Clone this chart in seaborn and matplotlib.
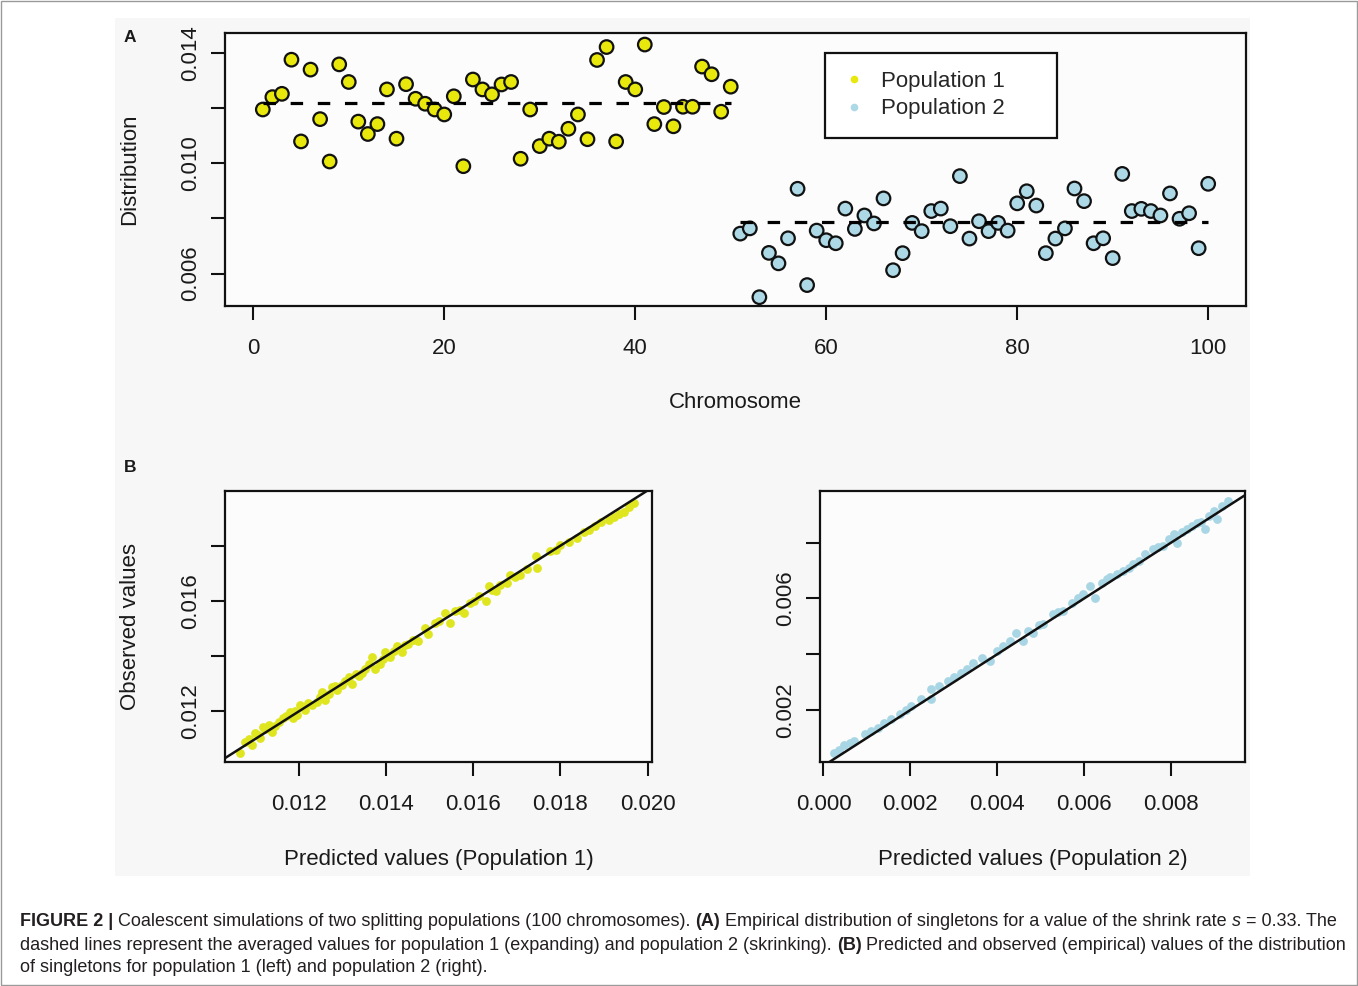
import numpy as np
import pandas as pd
import seaborn as sns
import matplotlib
matplotlib.use("Agg")
import matplotlib.pyplot as plt
from matplotlib.lines import Line2D
from matplotlib.patches import Rectangle
from matplotlib.font_manager import FontProperties, findfont

sns.set_style("white")
plt.rcParams['font.family'] = ['Liberation Sans', 'DejaVu Sans']

# panel A: singleton distribution per chromosome
chrom = list(range(1, 101))
pop1_dist = [0.01196, 0.01241, 0.01253, 0.01377, 0.01080, 0.01341, 0.01161, 0.01007, 0.01360, 0.01296,
             0.01152, 0.01107, 0.01143, 0.01269, 0.01090, 0.01288, 0.01235, 0.01217, 0.01196, 0.01178,
             0.01244, 0.00990, 0.01305, 0.01269, 0.01251, 0.01287, 0.01296, 0.01017, 0.01196, 0.01063,
             0.01090, 0.01079, 0.01126, 0.01178, 0.01088, 0.01376, 0.01423, 0.01080, 0.01296, 0.01269,
             0.01432, 0.01143, 0.01205, 0.01135, 0.01206, 0.01206, 0.01352, 0.01324, 0.01188, 0.01279]
pop2_dist = [0.00745, 0.00764, 0.00514, 0.00675, 0.00637, 0.00728, 0.00908, 0.00558, 0.00756, 0.00721,
             0.00710, 0.00836, 0.00762, 0.00811, 0.00782, 0.00873, 0.00612, 0.00674, 0.00784, 0.00754,
             0.00827, 0.00836, 0.00772, 0.00954, 0.00727, 0.00790, 0.00754, 0.00784, 0.00756, 0.00855,
             0.00899, 0.00847, 0.00674, 0.00727, 0.00764, 0.00909, 0.00863, 0.00710, 0.00728, 0.00656,
             0.00962, 0.00827, 0.00835, 0.00827, 0.00811, 0.00891, 0.00799, 0.00819, 0.00692, 0.00926]
pop1_mean = 0.01221
pop2_mean = 0.00787

# panel B: predicted vs observed
pred1 = [0.01064, 0.01076, 0.01085, 0.01091, 0.01099, 0.01105, 0.01110, 0.01118, 0.01122, 0.01130,
         0.01137, 0.01145, 0.01153, 0.01164, 0.01170, 0.01179, 0.01187, 0.01190, 0.01195, 0.01202,
         0.01208, 0.01214, 0.01220, 0.01229, 0.01241, 0.01247, 0.01252, 0.01260, 0.01268, 0.01275,
         0.01282, 0.01287, 0.01298, 0.01306, 0.01314, 0.01321, 0.01330, 0.01337, 0.01345, 0.01352,
         0.01360, 0.01367, 0.01375, 0.01386, 0.01392, 0.01398, 0.01409, 0.01418, 0.01425, 0.01436,
         0.01443, 0.01451, 0.01462, 0.01474, 0.01490, 0.01497, 0.01513, 0.01520, 0.01536, 0.01547,
         0.01559, 0.01570, 0.01578, 0.01593, 0.01602, 0.01612, 0.01628, 0.01635, 0.01642, 0.01651,
         0.01662, 0.01677, 0.01685, 0.01695, 0.01708, 0.01722, 0.01743, 0.01746, 0.01777, 0.01790,
         0.01800, 0.01819, 0.01838, 0.01855, 0.01865, 0.01880, 0.01892, 0.01911, 0.01923, 0.01935,
         0.01946, 0.01958, 0.01969]
obs1 = [0.01048, 0.01090, 0.01098, 0.01078, 0.01120, 0.01115, 0.01102, 0.01144, 0.01135, 0.01150,
        0.01126, 0.01148, 0.01162, 0.01174, 0.01182, 0.01197, 0.01174, 0.01200, 0.01186, 0.01222,
        0.01214, 0.01204, 0.01230, 0.01222, 0.01233, 0.01252, 0.01269, 0.01240, 0.01262, 0.01287,
        0.01290, 0.01276, 0.01294, 0.01310, 0.01323, 0.01300, 0.01334, 0.01329, 0.01340, 0.01354,
        0.01372, 0.01395, 0.01354, 0.01372, 0.01388, 0.01413, 0.01395, 0.01420, 0.01437, 0.01413,
        0.01440, 0.01444, 0.01458, 0.01455, 0.01503, 0.01479, 0.01521, 0.01528, 0.01557, 0.01521,
        0.01563, 0.01566, 0.01557, 0.01593, 0.01600, 0.01617, 0.01599, 0.01653, 0.01640, 0.01635,
        0.01658, 0.01665, 0.01695, 0.01688, 0.01695, 0.01716, 0.01761, 0.01719, 0.01779, 0.01786,
        0.01803, 0.01815, 0.01827, 0.01848, 0.01857, 0.01872, 0.01887, 0.01893, 0.01905, 0.01915,
        0.01923, 0.01940, 0.01953]
pred2 = [0.00025, 0.00035, 0.00048, 0.00060, 0.00071, 0.00095, 0.00110, 0.00125, 0.00140, 0.00156,
         0.00175, 0.00190, 0.00202, 0.00225, 0.00248, 0.00248, 0.00265, 0.00287, 0.00300, 0.00317,
         0.00330, 0.00344, 0.00364, 0.00383, 0.00400, 0.00414, 0.00430, 0.00444, 0.00460, 0.00470,
         0.00483, 0.00495, 0.00506, 0.00529, 0.00540, 0.00552, 0.00571, 0.00585, 0.00598, 0.00613,
         0.00625, 0.00640, 0.00652, 0.00660, 0.00675, 0.00690, 0.00702, 0.00712, 0.00725, 0.00740,
         0.00759, 0.00770, 0.00782, 0.00795, 0.00806, 0.00813, 0.00825, 0.00836, 0.00848, 0.00859,
         0.00868, 0.00878, 0.00888, 0.00898, 0.00905, 0.00918, 0.00932]
obs2 = [0.00047, 0.00058, 0.00073, 0.00080, 0.00089, 0.00113, 0.00126, 0.00137, 0.00152, 0.00167,
        0.00185, 0.00200, 0.00214, 0.00240, 0.00274, 0.00238, 0.00285, 0.00304, 0.00318, 0.00334,
        0.00346, 0.00370, 0.00387, 0.00376, 0.00412, 0.00429, 0.00448, 0.00477, 0.00447, 0.00484,
        0.00477, 0.00505, 0.00507, 0.00543, 0.00552, 0.00555, 0.00585, 0.00600, 0.00615, 0.00644,
        0.00603, 0.00655, 0.00668, 0.00676, 0.00686, 0.00700, 0.00710, 0.00722, 0.00734, 0.00758,
        0.00776, 0.00784, 0.00788, 0.00812, 0.00830, 0.00800, 0.00838, 0.00848, 0.00860, 0.00871,
        0.00875, 0.00848, 0.00896, 0.00913, 0.00884, 0.00930, 0.00950]

YELLOW = "#e8e80c"
BLUE = "#add8e6"
YELLOW_B = "#dfe620"
BLUE_B = "#a9d6e5"
W, H = 1358, 986

dfA = pd.DataFrame({"chrom": chrom, "dist": pop1_dist + pop2_dist,
                    "pop": ["Population 1"] * 50 + ["Population 2"] * 50})

fig = plt.figure(figsize=(W / 100, H / 100), dpi=100)
fig.patch.set_facecolor("white")
fig.patches.append(Rectangle((115 / W, 1 - 876 / H), 1135 / W, 858 / H, transform=fig.transFigure,
                             facecolor="#f7f7f7", edgecolor="none", zorder=-5))
fig.patches.append(Rectangle((0.001, 0.001), 0.998, 0.998, transform=fig.transFigure,
                             facecolor="none", edgecolor="#9a9a9a", lw=1, zorder=-4))

axA = fig.add_axes([225 / W, 1 - 306 / H, 1021 / W, 273 / H])
axB1 = fig.add_axes([225 / W, 1 - 762 / H, 427 / W, 271 / H])
axB2 = fig.add_axes([820 / W, 1 - 762 / H, 425 / W, 271 / H])


def style_axes(ax):
    ax.set_facecolor("#fcfcfc")
    for sp in ax.spines.values():
        sp.set_color("#111111")
        sp.set_linewidth(1.6)
    ax.tick_params(axis="both", direction="out", length=10, width=1.5, color="#111111",
                   labelsize=16, labelcolor="#1a1a1a", bottom=True, left=True)
    ax.tick_params(axis="x", pad=13)
    ax.tick_params(axis="y", pad=7)


# ---- panel A
sns.scatterplot(data=dfA, x="chrom", y="dist", hue="pop", palette=[YELLOW, BLUE], s=95,
                edgecolor="#111111", linewidth=1.6, legend=False, ax=axA, zorder=3)
dash = (0, (3.9, 4.6))
axA.hlines(pop1_mean, chrom[0], chrom[49], colors="black", lw=2.3, linestyles=[dash], zorder=4)
axA.hlines(pop2_mean, chrom[50], chrom[99], colors="black", lw=2.3, linestyles=[dash], zorder=4)
axA.set_xlim(-2.96, 103.96)
axA.set_ylim(0.00482, 0.01474)
style_axes(axA)
axA.set_xticks([0, 20, 40, 60, 80, 100])
axA.set_yticks([0.006, 0.008, 0.010, 0.012, 0.014], labels=["0.006", "", "0.010", "", "0.014"],
               rotation=90, va="center")
axA.set_xlabel("Chromosome", fontsize=16, color="#1a1a1a")
axA.set_ylabel("Distribution", fontsize=16, color="#1a1a1a")
axA.xaxis.set_label_coords(0.5, (306 - 403) / 273)
axA.xaxis.label.set_va("center")
axA.yaxis.set_label_coords((130 - 225) / 1021, 0.5)
axA.yaxis.label.set_va("center")

handles = [Line2D([], [], marker="o", ls="", color=YELLOW, mec="none", markersize=5.5),
           Line2D([], [], marker="o", ls="", color=BLUE, mec="none", markersize=5.5)]
axA.legend(handles, ["Population 1", "Population 2"], loc="upper left",
           bbox_to_anchor=((825 - 225) / 1021, (306 - 53) / 273), borderaxespad=0,
           frameon=False, fontsize=16, borderpad=0.8, handlelength=1.0,
           handletextpad=0.7, labelspacing=0.3)
axA.add_patch(Rectangle(((825 - 225) / 1021, (306 - 138) / 273), 232 / 1021, 85 / 273,
                        transform=axA.transAxes, facecolor="white", edgecolor="#111111",
                        lw=1.6, zorder=5))
axA.get_legend().set_zorder(6)

# ---- panel B
sns.scatterplot(x=pred1, y=obs1, color=YELLOW_B, s=40, linewidth=0, ax=axB1, zorder=2)
axB1.axline((0, 0), slope=1, color="#111111", lw=1.8, zorder=3)
axB1.set_xlim(0.0103, 0.0201)
axB1.set_ylim(0.01016, 0.01998)
style_axes(axB1)
axB1.set_xticks([0.012, 0.014, 0.016, 0.018, 0.020])
axB1.set_yticks([0.012, 0.014, 0.016, 0.018], labels=["0.012", "", "0.016", ""],
                rotation=90, va="center")
axB1.set_xlabel("Predicted values (Population 1)", fontsize=16, color="#1a1a1a")
axB1.set_ylabel("Observed values", fontsize=16, color="#1a1a1a")
axB1.xaxis.set_label_coords(0.5, (762 - 859) / 271)
axB1.xaxis.label.set_va("center")
axB1.yaxis.set_label_coords((130 - 225) / 427, 0.5)
axB1.yaxis.label.set_va("center")

sns.scatterplot(x=pred2, y=obs2, color=BLUE_B, s=40, linewidth=0, ax=axB2, zorder=2)
axB2.axline((0, 0), slope=1, color="#111111", lw=1.8, zorder=3)
axB2.set_xlim(-0.00008, 0.0097)
axB2.set_ylim(0.000136, 0.00985)
style_axes(axB2)
axB2.set_xticks([0.000, 0.002, 0.004, 0.006, 0.008])
axB2.set_yticks([0.002, 0.004, 0.006, 0.008], labels=["0.002", "", "0.006", ""],
                rotation=90, va="center")
axB2.set_xlabel("Predicted values (Population 2)", fontsize=16, color="#1a1a1a")
axB2.set_ylabel("")
axB2.xaxis.set_label_coords(0.5, (762 - 859) / 271)
axB2.xaxis.label.set_va("center")

axA.xaxis.set_major_formatter(matplotlib.ticker.FormatStrFormatter("%g"))
axB1.xaxis.set_major_formatter(matplotlib.ticker.FormatStrFormatter("%.3f"))
axB2.xaxis.set_major_formatter(matplotlib.ticker.FormatStrFormatter("%.3f"))

fig.text(130 / W, 1 - 38 / H, "A", fontsize=12.5, weight="bold", ha="center", va="center", color="#1a1a1a")
fig.text(130 / W, 1 - 467 / H, "B", fontsize=12.5, weight="bold", ha="center", va="center", color="#1a1a1a")

# ---- caption
try:
    findfont(FontProperties(family="Liberation Sans Narrow"), fallback_to_default=False)
    cap_family = "Liberation Sans Narrow"
except Exception:
    cap_family = "Liberation Sans"

caption = [
    [("FIGURE 2 |", "bold", "normal"),
     ("Coalescent simulations of two splitting populations (100 chromosomes).", "normal", "normal"),
     ("(A)", "bold", "normal"),
     ("Empirical distribution of singletons for a value of the shrink rate", "normal", "normal"),
     ("s", "normal", "italic"),
     ("= 0.33. The", "normal", "normal")],
    [("dashed lines represent the averaged values for population 1 (expanding) and population 2 (skrinking).", "normal", "normal"),
     ("(B)", "bold", "normal"),
     ("Predicted and observed (empirical) values of the distribution", "normal", "normal")],
    [("of singletons for population 1 (left) and population 2 (right).", "normal", "normal")],
]
cap_y = [922, 945, 968]
renderer = fig.canvas.get_renderer()


def draw_line(runs, x_px, y_px, size, keep=True):
    probe1 = fig.text(0, 0, "a a", fontsize=size, family=cap_family)
    probe2 = fig.text(0, 0, "aa", fontsize=size, family=cap_family)
    space = probe1.get_window_extent(renderer).width - probe2.get_window_extent(renderer).width
    probe1.remove()
    probe2.remove()
    x = x_px
    made = []
    for text, weight, style in runs:
        t = fig.text(x / W, 1 - y_px / H, text, fontsize=size, weight=weight, style=style,
                     family=cap_family, color="#231f20", ha="left", va="center")
        made.append(t)
        x += t.get_window_extent(renderer).width + space
    if not keep:
        for t in made:
            t.remove()
    return x - space


base = 12.0
end = draw_line(caption[0], 20, cap_y[0], base, keep=False)
size = base * (1340 - 20) / (end - 20)
for runs, y in zip(caption, cap_y):
    draw_line(runs, 20, y, size)

fig.savefig("out.png", dpi=100)
